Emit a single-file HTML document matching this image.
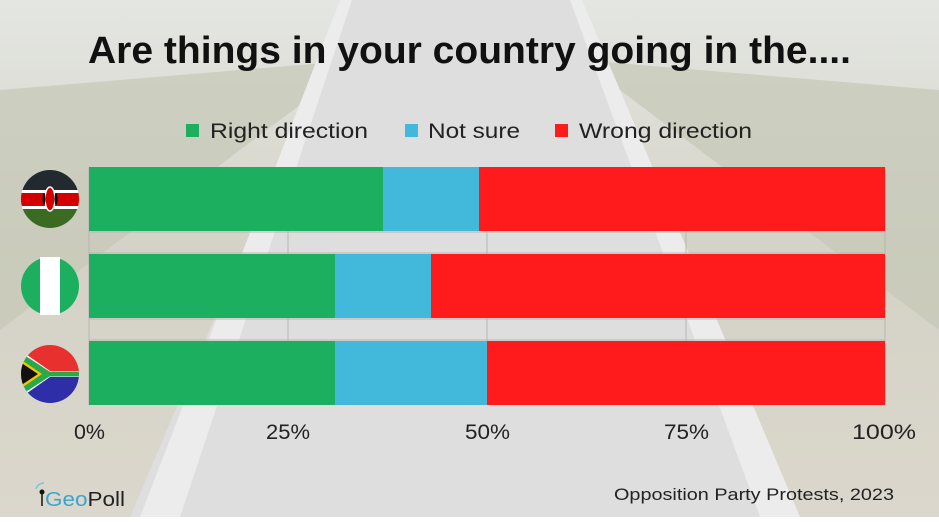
<!DOCTYPE html>
<html><head><meta charset="utf-8"><style>
body{margin:0;width:939px;height:517px;overflow:hidden;font-family:"Liberation Sans",sans-serif;}
</style></head><body>
<svg width="939" height="517" viewBox="0 0 939 517" xmlns="http://www.w3.org/2000/svg">
<defs>
<linearGradient id="bg" x1="0" y1="0" x2="0" y2="1">
<stop offset="0" stop-color="#e4e6e2"/><stop offset="0.5" stop-color="#d4d2c6"/><stop offset="1" stop-color="#dbd7cc"/>
</linearGradient>
<clipPath id="c1"><circle cx="50" cy="199" r="29"/></clipPath>
<clipPath id="c3"><circle cx="50" cy="374" r="29"/></clipPath>
</defs>
<rect width="939" height="517" fill="url(#bg)"/>
<polygon points="0,90 360,60 0,330" fill="#c4c8b6" opacity="0.7"/>
<polygon points="939,90 580,60 939,330" fill="#c4c8b6" opacity="0.7"/>
<polygon points="350,0 570,0 760,517 130,517" fill="#dedede"/>
<polygon points="340,0 352,0 180,517 140,517" fill="#ececec"/>
<polygon points="570,0 582,0 800,517 760,517" fill="#ececec"/>
<text x="88" y="63" font-size="38" font-weight="bold" fill="#111" textLength="763" lengthAdjust="spacingAndGlyphs">Are things in your country going in the....</text>
<rect x="186" y="124" width="13" height="13" fill="#1caf5f"/>
<text x="210" y="138" font-size="21" fill="#222" textLength="158" lengthAdjust="spacingAndGlyphs">Right direction</text>
<rect x="405" y="124" width="13" height="13" fill="#42b8da"/>
<text x="428" y="138" font-size="21" fill="#222" textLength="92" lengthAdjust="spacingAndGlyphs">Not sure</text>
<rect x="555" y="124" width="13" height="13" fill="#ff1b1b"/>
<text x="579" y="138" font-size="21" fill="#222" textLength="173" lengthAdjust="spacingAndGlyphs">Wrong direction</text>
<g stroke="#b8b6b0" stroke-width="1">
<line x1="89" y1="167" x2="89" y2="405"/><line x1="288" y1="167" x2="288" y2="405"/><line x1="487" y1="167" x2="487" y2="405"/><line x1="686" y1="167" x2="686" y2="405"/><line x1="885" y1="167" x2="885" y2="405"/>
<line x1="89" y1="232" x2="885" y2="232"/><line x1="89" y1="253" x2="885" y2="253"/><line x1="89" y1="319" x2="885" y2="319"/><line x1="89" y1="340" x2="885" y2="340"/>
</g>
<rect x="89" y="167" width="294" height="64" fill="#1caf5f"/><rect x="383" y="167" width="96" height="64" fill="#42b8da"/><rect x="479" y="167" width="406" height="64" fill="#ff1b1b"/>
<rect x="89" y="254" width="246" height="64" fill="#1caf5f"/><rect x="335" y="254" width="96" height="64" fill="#42b8da"/><rect x="431" y="254" width="454" height="64" fill="#ff1b1b"/>
<rect x="89" y="341" width="246" height="64" fill="#1caf5f"/><rect x="335" y="341" width="152" height="64" fill="#42b8da"/><rect x="487" y="341" width="398" height="64" fill="#ff1b1b"/>
<g clip-path="url(#c1)">
<rect x="20" y="170" width="60" height="20" fill="#222a30"/>
<rect x="20" y="190" width="60" height="3" fill="#fff"/>
<rect x="20" y="193" width="60" height="13" fill="#d40000"/>
<rect x="20" y="206" width="60" height="3" fill="#fff"/>
<rect x="20" y="209" width="60" height="20" fill="#3b6a22"/>
<ellipse cx="50" cy="199" rx="5" ry="12" fill="#d40000" stroke="#fff" stroke-width="1.5"/>
<ellipse cx="44" cy="199" rx="1.5" ry="6" fill="#000"/><ellipse cx="56" cy="199" rx="1.5" ry="6" fill="#000"/>
</g>
<circle cx="50" cy="286" r="29" fill="#1caf5f"/><rect x="40" y="257" width="20" height="58" fill="#fff"/>
<g clip-path="url(#c3)">
<rect x="20" y="345" width="60" height="29" fill="#e8312f"/>
<rect x="20" y="374" width="60" height="29" fill="#2d2ea8"/>
<polygon points="20,350 50,371 80,371 80,377 50,377 20,398" fill="#fff"/>
<polygon points="20,354 49,373 80,373 80,375 49,375 20,394" fill="#2aa84a" stroke="#2aa84a" stroke-width="3"/>
<polygon points="20,359 42,374 20,389" fill="#f7c600"/>
<polygon points="20,362 38,374 20,386" fill="#111"/>
</g>
<g font-size="21" fill="#222">
<text x="74" y="439" textLength="31" lengthAdjust="spacingAndGlyphs">0%</text>
<text x="266" y="439" textLength="44" lengthAdjust="spacingAndGlyphs">25%</text>
<text x="465" y="439" textLength="45" lengthAdjust="spacingAndGlyphs">50%</text>
<text x="664" y="439" textLength="45" lengthAdjust="spacingAndGlyphs">75%</text>
<text x="852" y="439" textLength="64" lengthAdjust="spacingAndGlyphs">100%</text>
</g>
<text x="614" y="500" font-size="17" fill="#222" textLength="280" lengthAdjust="spacingAndGlyphs">Opposition Party Protests, 2023</text>
<circle cx="42" cy="492" r="2.5" fill="#111"/><line x1="42" y1="492" x2="42" y2="506" stroke="#111" stroke-width="1.5"/>
<path d="M36,489 a8,8 0 0 1 8,-6" stroke="#7cc4dc" stroke-width="1.5" fill="none"/>
<text x="45" y="506" font-size="20" fill="#3aa6cf" textLength="80" lengthAdjust="spacingAndGlyphs">Geo<tspan fill="#222">Poll</tspan></text>
</svg>
</body></html>
